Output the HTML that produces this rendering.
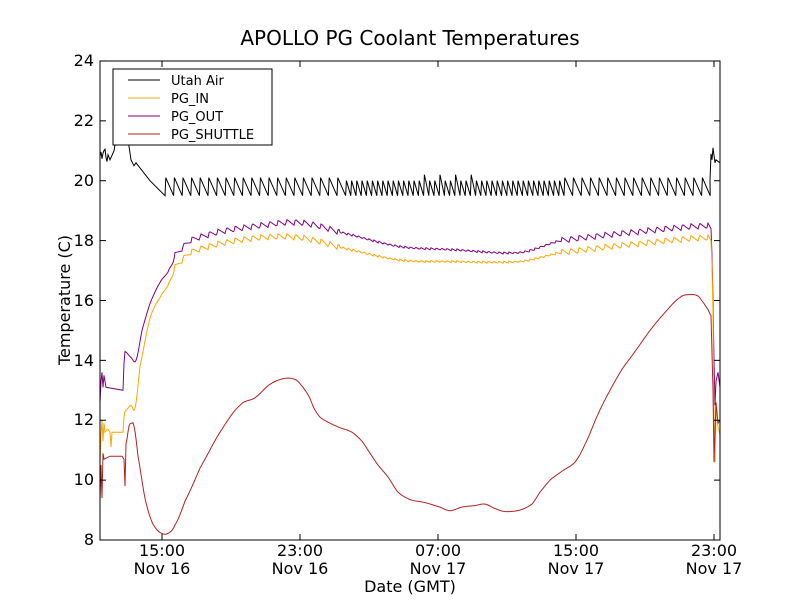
<!DOCTYPE html>
<html><head><meta charset="utf-8"><style>
body{margin:0;background:#fff;font-family:"Liberation Sans","DejaVu Sans",sans-serif}
svg text{font-family:"DejaVu Sans","Liberation Sans",sans-serif}
</style></head><body>
<svg id="s" width="800" height="600" xmlns="http://www.w3.org/2000/svg">
<rect width="800" height="600" fill="#fff"/>
<g id="plot"></g>
<rect x="100" y="61" width="620" height="479" fill="none" stroke="#000" stroke-width="1"/>
<g id="ticks" stroke="#000" stroke-width="1"></g>
<g font-size="16" fill="#000" text-anchor="end">
<text x="94" y="545">8</text><text x="94" y="485">10</text><text x="94" y="425">12</text><text x="94" y="366">14</text><text x="94" y="306">16</text><text x="94" y="246">18</text><text x="94" y="186">20</text><text x="94" y="126">22</text><text x="94" y="66">24</text>
</g>
<g font-size="16" fill="#000" text-anchor="middle">
<text x="162" y="556">15:00</text><text x="162" y="574">Nov 16</text>
<text x="300" y="556">23:00</text><text x="300" y="574">Nov 16</text>
<text x="438" y="556">07:00</text><text x="438" y="574">Nov 17</text>
<text x="576" y="556">15:00</text><text x="576" y="574">Nov 17</text>
<text x="714" y="556">23:00</text><text x="714" y="574">Nov 17</text>
<text x="410" y="592">Date (GMT)</text>
<text x="410" y="45" font-size="20">APOLLO PG Coolant Temperatures</text>
<text transform="translate(70,300) rotate(-90)">Temperature (C)</text>
</g>
<g>
<rect x="113" y="69" width="159" height="76" fill="#fff" stroke="#000"/>
<line x1="128" y1="80" x2="160" y2="80" stroke="#000"/>
<line x1="128" y1="98" x2="160" y2="98" stroke="#ffa500"/>
<line x1="128" y1="116" x2="160" y2="116" stroke="#800080"/>
<line x1="128" y1="134" x2="160" y2="134" stroke="#b22222"/>
<g font-size="13" fill="#000"><text x="171" y="85">Utah Air</text><text x="171" y="103">PG_IN</text><text x="171" y="121">PG_OUT</text><text x="171" y="139">PG_SHUTTLE</text></g>
</g>
</svg>
<script>
const Y=t=>540-(t-8)*29.94;
function interp(k,x){for(let i=0;i<k.length-1;i++){if(x>=k[i][0]&&x<=k[i+1][0]){const f=(x-k[i][0])/(k[i+1][0]-k[i][0]);return k[i][1]+f*(k[i+1][1]-k[i][1]);}}return k[k.length-1][1];}
function smooth(k,x){for(let i=0;i<k.length-1;i++){if(x>=k[i][0]&&x<=k[i+1][0]){const t=(x-k[i][0])/(k[i+1][0]-k[i][0]);const p0=(k[i-1]||k[i])[1],p1=k[i][1],p2=k[i+1][1],p3=(k[i+2]||k[i+1])[1];
const t2=t*t,t3=t2*t;return 0.5*((2*p1)+(-p0+p2)*t+(2*p0-5*p1+4*p2-p3)*t2+(-p0+3*p1-3*p2+p3)*t3);}}return k[k.length-1][1];}
function path(pts,c,w){const p=document.createElementNS("http://www.w3.org/2000/svg","polyline");p.setAttribute("points",pts.map(a=>a[0].toFixed(1)+","+Y(a[1]).toFixed(1)).join(" "));p.setAttribute("fill","none");p.setAttribute("stroke",c);p.setAttribute("stroke-width",w||1);document.getElementById("plot").appendChild(p);}
const tk=document.getElementById("ticks");
function ln(x1,y1,x2,y2){const l=document.createElementNS("http://www.w3.org/2000/svg","line");l.setAttribute("x1",x1);l.setAttribute("y1",y1);l.setAttribute("x2",x2);l.setAttribute("y2",y2);tk.appendChild(l);}
for(let t=8;t<=24;t+=2){const y=Y(t);ln(100,y,106,y);ln(720,y,714,y);}
[162,300,438,576,714].forEach(x=>{ln(x,540,x,534);ln(x,61,x,67);});
// Utah air
let a=[];let s=1;
for(let x=100;x<=108;x+=1){a.push([x,20.5+((s=s*7%13)/13)*0.6]);}
a.push([110,20.7],[114,21.0],[118,21.8],[122,22.3],[127,21.6],[131,20.7],[134,20.5],[136,20.6],[150,20.0],[165,19.5]);
let x=165,n=0;
while(x<707){const p=(x<340||x>560)?8.6:5.2;const amp=((x<340||x>560)?0.6:0.5)+((x>420&&x<480&&n%3==0)?0.2:0);a.push([x+0.8,19.5+amp]);a.push([x+p,19.5]);x+=p;n++;}
a.push([710,20.0],[711,20.9],[712,20.7],[713,21.1],[715,20.6],[716,20.7],[720,20.6]);
path(a,"#000");
const outK=[[125,14.3],[131,14.1],[136,14.0],[142,15.0],[150,15.9],[160,16.6],[168,16.95],[175,17.5],[190,18.0],[220,18.3],[260,18.5],[300,18.6],[350,18.2],[400,17.8],[450,17.7],[520,17.6],[560,18.0],[640,18.3],[708,18.5]];
const inK=[[125,12.3],[131,12.5],[135,12.4],[140,13.8],[150,15.4],[160,16.1],[168,16.5],[175,17.1],[190,17.6],[220,17.9],[260,18.1],[300,18.1],[350,17.7],[400,17.35],[450,17.3],[520,17.3],[560,17.6],[640,17.9],[708,18.1]];
function pg(k,pre,post){let r=pre.slice();for(let x=k[0][0];x<=708;x+=1){let v=smooth(k,x);if(x>168){const p=(x<340||x>560)?8.6:5.2;const ph=((x-165)%p)/p;const amp=(x<340||x>560)?0.2:0.07;v+=amp*(ph<0.15?ph/0.15:1-(ph-0.15)/0.85)-amp/2;}r.push([x,v]);}return r.concat(post);}
path(pg(outK,[[100,12.6],[101,13.3],[102,13.6],[103,13.1],[104,13.5],[106,13.1],[123,13.0],[124,13.9]],[[711,18.4],[712,17.5],[713,16.0],[714,14.0],[715,12.5],[716,13.3],[718,13.6],[720,13.1]]),"#800080");
path(pg(inK,[[100,10.6],[101,11.5],[102,12.0],[103,11.3],[104,11.9],[105,11.6],[108,11.7],[110,11.6],[111,11.1],[112,11.6],[123,11.6],[124,12.1]],[[711,18.0],[712,17.2],[713,15.5],[714,12.0],[715,10.6],[716,12.5],[718,11.8],[720,11.5]]),"#ffa500");
const shK=[[126,11.2],[129,11.8],[132,11.9],[134,11.8],[138,10.8],[145,9.4],[152,8.6],[160,8.25],[168,8.22],[175,8.5],[185,9.3],[200,10.4],[220,11.6],[240,12.5],[255,12.75],[270,13.2],[285,13.4],[296,13.35],[303,13.1],[309,12.8],[314,12.4],[320,12.1],[330,11.9],[340,11.75],[352,11.6],[362,11.3],[370,10.9],[378,10.5],[388,10.1],[398,9.6],[410,9.35],[425,9.25],[440,9.1],[450,8.98],[462,9.1],[475,9.15],[485,9.2],[495,9.05],[505,8.95],[520,9.0],[532,9.2],[540,9.6],[550,10.0],[562,10.3],[575,10.6],[585,11.2],[598,12.2],[610,13.0],[622,13.7],[635,14.3],[650,15.0],[665,15.6],[680,16.1],[690,16.2],[698,16.15],[704,15.9],[708,15.7],[711,15.5]];
let sh=[[100,9.3],[101,10.5],[102,9.4],[103,10.9],[104,10.7],[110,10.8],[122,10.8],[124,10.7],[125,9.8]];
for(let x=126;x<=711;x+=1){sh.push([x,smooth(shK,x)]);}
sh.push([713,13.0],[714,10.6],[716,12.6],[718,11.9],[720,12.0]);
path(sh,"#b22222");
</script>
</body></html>
